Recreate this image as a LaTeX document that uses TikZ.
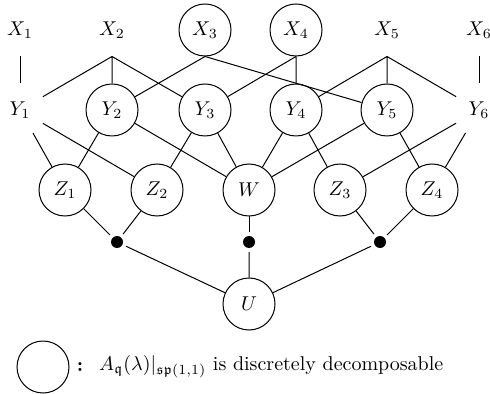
\documentclass[tikz,border=0pt]{standalone}
\usepackage{amsmath}
\usepackage{amssymb}
\usepackage{tikz}
\tikzstyle{dot}=[circle,fill=black, minimum size = 6pt, inner sep=0pt, outer sep=2pt]
\tikzstyle{rep}=[circle,draw, minimum size = 26pt, inner sep=0pt]
\tikzstyle{norep}=[circle, minimum size = 26pt, inner sep=0pt]

\begin{document}
\begin{tikzpicture}
        [x=0.5pt,y=-0.5pt,line width=0.5pt]
            \useasboundingbox (0,0) rectangle (490,394);
            % top row
            \node [norep] (x1) at (20,30) {$X_1$};
            \node [norep] (x2) at (112,30) {$X_2$};
            \node [rep] (x3) at (205,30) {$X_3$};
            \node [rep] (x4) at (296,30) {$X_4$};
            \node [norep] (x5) at (387,30) {$X_5$};
            \node [norep] (x6) at (479,30) {$X_6$};
            % second row
            \node [norep] (y1) at (20,110) {$Y_1$};
            \node [rep] (y2) at (112,110) {$Y_2$};
            \node [rep] (y3) at (205,110) {$Y_3$};
            \node [rep] (y4) at (296,110) {$Y_4$};
            \node [rep] (y5) at (387,110) {$Y_5$};
            \node [norep] (y6) at (479,110) {$Y_6$};
            % third row
            \node [rep] (z1) at (65,190) {$Z_1$};
            \node [rep] (z2) at (157,190) {$Z_2$};
            \node [rep] (w) at (249,190) {$W$};
            \node [rep] (z3) at (340,190) {$Z_3$};
            \node [rep] (z4) at (432,190) {$Z_4$};
            \node [dot] (d1) at (117,242) {};
            \node [dot] (d2) at (249,242) {};
            \node [dot] (d3) at (380,242) {};
            \node [rep] (u) at (249,304) {$U$};
            % edges
            \draw (x1) -- (y1) ;
            \draw (x2.south) -- (y1) (x2.south) -- (y2) (x2.south) -- (y3) ;
            \draw (x3.south) -- (y2) (x3.south) -- (y5) ;
            \draw (x4.south) -- (y3) (x4.south) -- (y4) ;
            \draw (x5.south) -- (y4) (x5.south) -- (y5) (x5.south) -- (y6) ;
            \draw (x6) -- (y6) ;
            \draw (y1) -- (z1) (y1) -- (z2) ;
            \draw (y2) -- (z1) (y2) -- (w) ;
            \draw (y3) -- (z2) (y3) -- (w) ;
            \draw (y4) -- (w) (y4) -- (z3) ;
            \draw (y5) -- (w) (y5) -- (z4) ;
            \draw (y6) -- (z3) (y6) -- (z4) ;
            \draw (z1) -- (d1) -- (z2) ;
            \draw (w) -- (d2) ;
            \draw (z3) -- (d3) -- (z4) ;
            \draw (d1) -- (u) (d2) -- (u) (d3) -- (u) ;
            % legend
            \node [rep] (key) at (43,367) {};
            \node (colon) at (80,367) {\textbf{:}};
            \node [anchor=west] (keytext) at (92,367) {$A_{\mathfrak{q}}(\lambda)|_{\mathfrak{sp}(1,1)}$ is discretely decomposable};
        \end{tikzpicture}
\end{document}
